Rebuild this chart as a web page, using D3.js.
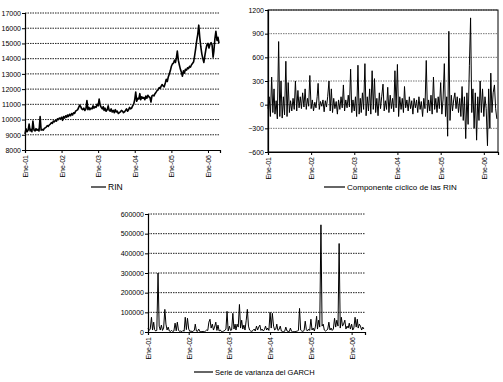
<!DOCTYPE html>
<html>
<head>
<meta charset="utf-8">
<script src="https://cdn.jsdelivr.net/npm/d3@7"></script>
<style>
  body { margin: 0; background: #fff; }
  text { font-family: "Liberation Sans", Arial, sans-serif; }
</style>
</head>
<body>
<svg id="chart" width="503" height="382"></svg>
<script>
// category labels on the time axes
let yearLabels = ["Ene-01", "Ene-02", "Ene-03", "Ene-04", "Ene-05", "Ene-06"];
let yearTicks = [2001, 2002, 2003, 2004, 2005, 2006].map(function(y){ return new Date(y, 0, 1); });

// y tick values for each panel
let rinTicks = [8000, 9000, 10000, 11000, 12000, 13000, 14000, 15000, 16000, 17000];
let cicloTicks = [-600, -300, 0, 300, 600, 900, 1200];
let garchTicks = [0, 100000, 200000, 300000, 400000, 500000, 600000];

// series: three readings per month, Jan 2001 .. Apr 2006
let rin = [
  9050, 9400, 9200,  9300, 9700, 9250,  9350, 9200, 9900,  9300, 9250, 9400,
  9300, 9350, 9250,  10200, 9300, 9350,  9300, 9400, 9450,  9500, 9600, 9550,
  9650, 9700, 9800,  9750, 9900, 9850,  9950, 9900, 10050,  10000, 10100, 10050,
  10150, 9950, 10200,  10100, 10250, 10150,  10300, 10200, 10350,  10250, 10400, 10300,
  10450, 10400, 10550,  10600, 10650, 10800,  10950, 10850, 10700,  10650, 10750, 10600,
  10700, 11250, 10650,  10800, 10650, 10750,  10700, 10900, 10750,  10850, 10800, 11000,
  10900, 11350, 10950,  10800, 10700, 10850,  10600, 10750, 10550,  10650, 10900, 10600,
  10550, 10700, 10500,  10600, 10450, 10650,  10500, 10550, 10400,  10450, 10500, 10600,
  10550, 10450, 10500,  10600, 10700, 10550,  10650, 10800, 10700,  10750, 10900, 11000,
  11300, 11800, 11200,  11400, 11350, 11700,  11300, 11500, 11400,  11450, 11300, 11550,
  11400, 11600, 11500,  11450, 11150, 11550,  11600, 11550, 11700,  11800, 11900, 11950,
  12100, 12050, 12200,  12300, 12200, 12150,  12400, 12650, 12500,  12800, 13000, 13200,
  13500, 13650, 13700,  13900, 13750, 14100,  14500, 13900, 13600,  13300, 13100, 12850,
  13200, 13050, 13300,  13250, 13400, 13350,  13500, 13450, 13600,  13700, 13800, 14200,
  14700, 15200, 15600,  16200, 15400, 14800,  14300, 14000, 13750,  14200, 14600, 14900,
  15000, 14700, 14950,  15050, 14900, 14100,  14500, 15300, 15800,  15200, 15400, 15000
];

let ciclo = [
  -50, 100, -150,  350, -100, 200,  -120, 50, -180,  800, -150, 300,
  -170, 100, -130,  550, -150, 280,  -100, 50, -80,  80, -60, 300,
  -80, 180, -40,  100, -50, 150,  -30, 200, -60,  80, -20, 370,
  -50, 60, -80,  30, -40, 100,  270, -60, 40,  -20, 60, -90,
  50, -30, 100,  300, -80, 200,  -100, 80, -50,  40, -120, 60,
  -60, 100, -40,  250, -80, 60,  -40, 120, -30,  450, -100, 60,
  -80, 100, -150,  500, -120, 80,  -100, 150, -60,  520, -140, 100,
  -80, 200, -120,  430, -60, 330,  -100, 80, -140,  150, -50, 100,
  260, -80, 50,  -60, 220, -100,  120, -50, 80,  -90, 430, -40,
  510, -150, 100,  -60, 80, -100,  230, -40, 60,  -80, 100, -50,
  50, -120, 80,  -40, 60, -100,  100, -60, 40,  -150, 80, -50,
  560, -100, 60,  -80, 120, -120,  350, -60, 80,  -100, 100, -50,
  280, -120, 60,  520, -150, 100,  -400, 930, -200,  120, -80, 60,
  150, -50, 100,  -100, 80, -150,  230, -200, 100,  -430, 150, -250,
  500, 1100, -100,  200, -300, 150,  -450, 100, -200,  300, -100, 200,
  -150, 100, -50,  -520, 200, -300,  400, -100, 150,  250, -50, -180
];

let garch = [
  20000, 8000, 15000,  75000, 10000, 50000,  12000, 5000, 8000,  300000, 30000, 10000,
  35000, 8000, 20000,  115000, 40000, 10000,  25000, 5000, 3000,  8000, 2000, 5000,
  45000, 6000, 50000,  10000, 3000, 5000,  2000, 8000, 4000,  75000, 12000, 70000,
  15000, 3000, 5000,  2000, 4000, 10000,  40000, 5000, 3000,  15000, 2000, 1000,
  2000, 3000, 1000,  5000, 10000, 8000,  50000, 65000, 20000,  40000, 10000, 25000,
  50000, 8000, 35000,  5000, 10000, 3000,  2000, 5000, 8000,  15000, 105000, 5000,
  30000, 8000, 10000,  95000, 15000, 40000,  10000, 40000, 25000,  140000, 20000, 60000,
  15000, 35000, 10000,  60000, 115000, 30000,  10000, 5000, 3000,  8000, 15000, 5000,
  30000, 10000, 25000,  35000, 8000, 15000,  5000, 12000, 30000,  10000, 20000, 8000,
  100000, 20000, 95000,  30000, 10000, 15000,  40000, 8000, 12000,  30000, 5000, 3000,
  2000, 4000, 25000,  5000, 3000, 2000,  20000, 4000, 1000,  2000, 1000, 3000,
  5000, 8000, 120000,  10000, 5000, 3000,  8000, 55000, 12000,  5000, 15000, 8000,
  65000, 10000, 20000,  5000, 30000, 80000,  15000, 60000, 25000,  545000, 30000, 40000,
  10000, 5000, 8000,  15000, 50000, 10000,  20000, 8000, 15000,  70000, 25000, 60000,
  30000, 450000, 20000,  75000, 30000, 40000,  60000, 15000, 30000,  20000, 45000, 15000,
  40000, 10000, 20000,  75000, 25000, 65000,  20000, 40000, 30000,  10000, 25000, 15000
];

function dateAt(i){ return new Date(2001, Math.floor(i / 3), 1 + (i % 3) * 10); }

let startDate = new Date(2001, 0, 1),
    endDate = new Date(2006, 4, 1);

let svg = d3.select("#chart");

function drawPanel(p){
  let g = svg.append("g");

  let x = d3.scaleTime().domain([startDate, endDate]).range([p.left, p.right]),
      y = d3.scaleLinear().domain(p.yDomain).range([p.bottom, p.top]);

  // gridlines
  g.selectAll(".grid")
    .data(p.yTicks.filter(function(d){ return d !== p.yDomain[0]; }))
    .enter().append("line")
      .attr("x1", p.left).attr("x2", p.right)
      .attr("y1", function(d){ return y(d); })
      .attr("y2", function(d){ return y(d); })
      .attr("stroke", p.gridColor)
      .attr("stroke-width", 1)
      .attr("stroke-dasharray", "1.5,1");

  if (p.frame) {
    g.append("rect")
      .attr("x", p.left).attr("y", p.top)
      .attr("width", p.right - p.left).attr("height", p.bottom - p.top)
      .attr("fill", "none").attr("stroke", "#000").attr("stroke-width", 1);
  }

  let line = d3.line()
    .x(function(d, i){ return x(dateAt(i)); })
    .y(function(d){ return y(d); });

  g.append("path")
    .datum(p.values)
    .attr("fill", "none")
    .attr("stroke", "#000")
    .attr("stroke-width", p.lineWidth)
    .attr("stroke-linejoin", "round")
    .attr("d", line);

  // axes
  let yAxis = d3.axisLeft(y).tickValues(p.yTicks).tickSize(3).tickFormat(d3.format("d"));
  let yg = g.append("g").attr("transform", "translate(" + p.left + ",0)").call(yAxis);
  yg.selectAll("text").attr("font-size", 7).attr("font-family", null).attr("x", -4);
  yg.select(".domain").attr("stroke-width", 1.2);

  let xAxis = d3.axisBottom(x).tickValues(yearTicks).tickSize(3)
    .tickFormat(function(d, i){ return yearLabels[i]; });
  let xg = g.append("g").attr("transform", "translate(0," + p.bottom + ")").call(xAxis);
  xg.selectAll("text")
    .attr("font-size", 7).attr("font-family", null)
    .attr("transform", "rotate(-90)")
    .attr("x", -5).attr("y", 0).attr("dy", "0.35em")
    .style("text-anchor", "end");
  xg.select(".domain").attr("stroke-width", 1.2);

  // legend
  g.append("line")
    .attr("x1", p.legendX).attr("x2", p.legendX + p.legendLen)
    .attr("y1", p.legendY).attr("y2", p.legendY)
    .attr("stroke", "#000").attr("stroke-width", 1.2);
  g.append("text")
    .attr("x", p.legendX + p.legendLen + 2).attr("y", p.legendY)
    .attr("dy", "0.35em")
    .attr("font-size", p.legendSize)
    .text(p.legend);
}

drawPanel({
  left: 25, right: 220, top: 13, bottom: 150,
  yDomain: [8000, 17000], yTicks: rinTicks, values: rin,
  gridColor: "#222", frame: false, lineWidth: 1.6,
  legend: "RIN", legendX: 91, legendY: 187, legendLen: 15, legendSize: 8.5
});

drawPanel({
  left: 268, right: 498, top: 10, bottom: 152,
  yDomain: [-600, 1200], yTicks: cicloTicks, values: ciclo,
  gridColor: "#777", frame: true, lineWidth: 1,
  legend: "Componente cíclico de las RIN", legendX: 324, legendY: 187, legendLen: 21, legendSize: 8
});

drawPanel({
  left: 148, right: 365, top: 214, bottom: 332,
  yDomain: [0, 600000], yTicks: garchTicks, values: garch,
  gridColor: "#222", frame: false, lineWidth: 1,
  legend: "Serie de varianza del GARCH", legendX: 194, legendY: 372, legendLen: 19, legendSize: 7.5
});
</script>
</body>
</html>
